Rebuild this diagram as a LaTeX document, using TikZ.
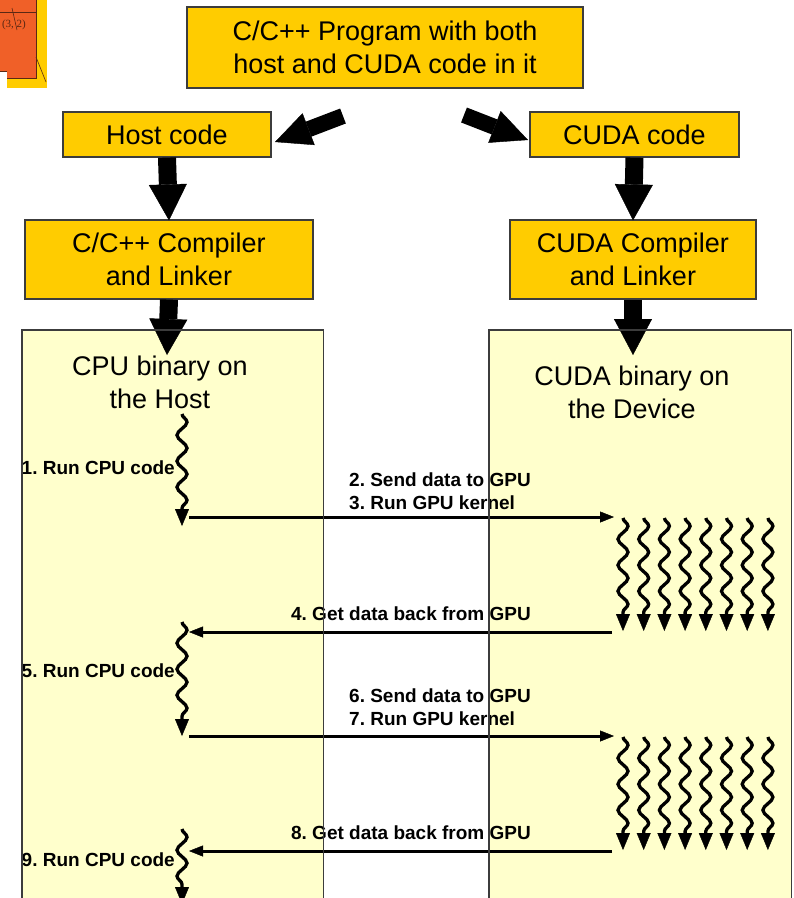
\documentclass[tikz,border=0pt]{standalone}
\usepackage{fontspec}
\setmainfont{Liberation Sans}
\newfontfamily\fragfont{Liberation Serif}
\usetikzlibrary{arrows.meta,decorations.pathmorphing}
\definecolor{boxy}{RGB}{255,204,0}
\definecolor{pale}{RGB}{255,255,204}
\definecolor{edge}{RGB}{60,60,60}
\definecolor{orng}{RGB}{240,96,40}
\definecolor{dkbrown}{RGB}{90,40,20}
\frenchspacing
\begin{document}
\begin{tikzpicture}[x=1pt,y=-1pt,
  ybox/.style={draw=edge, line width=1.2pt, fill=boxy, align=center, font=\fontsize{27}{33}\selectfont, inner sep=0pt},
  panel/.style={fill=pale, draw=none, inner sep=0pt, anchor=north west},
  ptext/.style={align=center, font=\fontsize{27}{33}\selectfont, inner sep=0pt},
  lbl/.style={font=\bfseries\fontsize{19}{23}\selectfont, inner sep=0pt},
  blockarrow/.style={line width=18pt, draw=black, -{Triangle[width=38pt,length=36pt,line width=0.4pt]}},
  diagarrow/.style={line width=16pt, draw=black, -{Triangle[width=34pt,length=36pt,line width=0.4pt]}},
  flow/.style={line width=3pt, -{Triangle[width=11pt,length=14pt,line width=0.4pt]}},
  wavy/.style={line width=3.3pt, decorate, decoration={snake, amplitude=5pt, segment length=26pt, post length=14pt}, -{Triangle[width=14pt,length=17pt,line width=0.4pt]}},
]
\clip (0,0) rectangle (794,898);
\fill[white] (0,0) rectangle (794,898);
% top-left fragment
\fill[boxy] (0,0) rectangle (47,88);
\fill[orng] (0,0) rectangle (37,78);
\fill[white] (0,71) rectangle (7,88);
\draw[dkbrown, line width=0.9pt] (0,12) -- (36,12);
\draw[dkbrown, line width=0.9pt] (36,0) -- (36,78) -- (7,78);
\draw[dkbrown, line width=0.7pt] (0,71) -- (7,71);
\draw[dkbrown, line width=0.6pt] (12,8) -- (17,30);
\draw[dkbrown, line width=0.6pt] (36,57) -- (46,82);
\node[text=dkbrown, font=\fragfont\fontsize{11}{12}\selectfont, inner sep=0pt] (frag) at (14,25) {(3, 2)};
% boxes
\node[ybox, minimum width=396, minimum height=81] (prog) at (385,47.5) {C/C++ Program with both\\host and CUDA code in it};
\node[ybox, minimum width=208, minimum height=45] (host) at (167,134.5) {Host code};
\node[ybox, minimum width=209, minimum height=45] (cuda) at (634.5,134.5) {CUDA code};
\node[ybox, minimum width=288, minimum height=79] (ccomp) at (169,259.5) {C/C++ Compiler\\and Linker};
\node[ybox, minimum width=246, minimum height=79] (gcomp) at (633,259.5) {CUDA Compiler\\and Linker};
% panels
\node[panel, minimum width=301, minimum height=600] (lp) at (22,330) {};
\node[panel, minimum width=302, minimum height=600] (rp) at (489,330) {};
% block arrows
\coordinate (la0) at (343,116);
\coordinate (la1) at (275,142);
\coordinate (ra0) at (464,115);
\coordinate (ra1) at (528,140);
\draw[diagarrow] (la0) -- (la1);
\draw[diagarrow] (ra0) -- (ra1);
\draw[blockarrow] (host.south) -- ([yshift=-1pt]ccomp.north);
\draw[blockarrow] (cuda.south) -- ([yshift=-1pt]gcomp.north);
\coordinate (lt) at (167,355);
\coordinate (rt) at (633,355);
\draw[blockarrow] (ccomp.south) -- (lt);
\draw[blockarrow] (gcomp.south) -- (rt);
% panel texts
\node[ptext] (cpub) at (160,382) {CPU binary on\\the Host};
\node[ptext] (gpub) at (632,392) {CUDA binary on\\the Device};
% host wavy lines
\coordinate (w1a) at (182,414);
\coordinate (w1b) at (182,526);
\coordinate (w2a) at (182,622);
\coordinate (w2b) at (182,736);
\coordinate (w3a) at (182,829);
\coordinate (w3b) at (182,904);
\draw[wavy] (w1a) -- (w1b);
\draw[wavy] (w2a) -- (w2b);
\draw[wavy] (w3a) -- (w3b);
\node[lbl, anchor=east] (l1) at (175,468) {1. Run CPU code};
\node[lbl, anchor=east] (l5) at (175,671) {5. Run CPU code};
\node[lbl, anchor=east] (l9) at (175,860) {9. Run CPU code};
% transfer arrows
\coordinate (s1a) at (189,517);
\coordinate (s1b) at (614,517);
\coordinate (g1a) at (612,632);
\coordinate (g1b) at (189,632);
\coordinate (s2a) at (189,736);
\coordinate (s2b) at (614,736);
\coordinate (g2a) at (612,851);
\coordinate (g2b) at (189,851);
\draw[flow] (s1a) -- (s1b);
\draw[flow] (g1a) -- (g1b);
\draw[flow] (s2a) -- (s2b);
\draw[flow] (g2a) -- (g2b);
\node[lbl, anchor=west] (t2) at (349,480) {2. Send data to GPU};
\node[lbl, anchor=west] (t3) at (349,503) {3. Run GPU kernel};
\node[lbl, anchor=east] (t4) at (531,614) {4. Get data back from GPU};
\node[lbl, anchor=west] (t6) at (349,696) {6. Send data to GPU};
\node[lbl, anchor=west] (t7) at (349,719) {7. Run GPU kernel};
\node[lbl, anchor=east] (t8) at (531,833) {8. Get data back from GPU};
% device wavy lines
\foreach \i in {0,...,7} {
  \coordinate (k1a\i) at (623+20.7*\i,518);
  \coordinate (k1b\i) at (623+20.7*\i,631);
  \coordinate (k2a\i) at (623+20.7*\i,737);
  \coordinate (k2b\i) at (623+20.7*\i,850);
  \draw[wavy] (k1a\i) -- (k1b\i);
  \draw[wavy] (k2a\i) -- (k2b\i);
}
% panel borders on top
\draw[edge, line width=1.2pt] (lp.north west) rectangle (lp.south east);
\draw[edge, line width=1.2pt] (rp.north west) rectangle (rp.south east);
\end{tikzpicture}
\end{document}
